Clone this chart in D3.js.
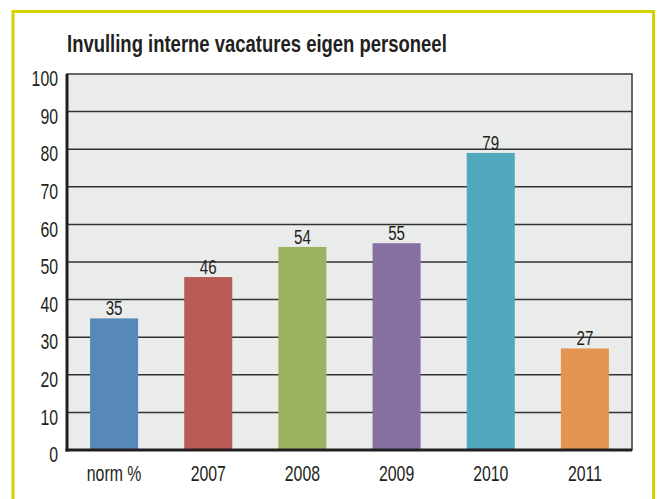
<!DOCTYPE html>
<html>
<head>
<meta charset="utf-8">
<script src="https://cdn.jsdelivr.net/npm/d3@7"></script>
<style>
  html, body { margin: 0; padding: 0; background: #fff; }
</style>
</head>
<body>
<div id="chart"></div>
<script>
const categories = ["norm %", "2007", "2008", "2009", "2010", "2011"];
const values = [35, 46, 54, 55, 79, 27];
const barColors = ["#5689ba", "#b95c55", "#9bb25f", "#8670a2", "#4fa8bc", "#e3954f"];
const yTicks = [0, 10, 20, 30, 40, 50, 60, 70, 80, 90, 100];
const title = "Invulling interne vacatures eigen personeel";

const width = 657, height = 499;
const margin = { top: 74, right: 25, bottom: 49, left: 67 };
const font = "'Liberation Sans', Arial, sans-serif";
const ink = "#231f20";
const squeeze = 0.72; // smalle letter nabootsen

const svg = d3.select("#chart").append("svg")
    .attr("width", width)
    .attr("height", height);

// gele kader
svg.append("rect")
    .attr("x", 13).attr("y", 11.5)
    .attr("width", 640.5).attr("height", 520)
    .attr("fill", "none")
    .attr("stroke", "#d4d200")
    .attr("stroke-width", 3);

svg.append("g")
    .attr("transform", `translate(67, 52) scale(0.77, 1)`)
    .append("text")
    .attr("fill", ink)
    .style("font-family", font)
    .style("font-weight", "bold")
    .style("font-size", "24px")
    .text(title);

const innerWidth = width - margin.left - margin.right;
const innerHeight = height - margin.top - margin.bottom;

const g = svg.append("g").attr("transform", `translate(${margin.left}, ${margin.top})`);

const x = d3.scaleBand()
    .domain(categories)
    .range([0, innerWidth])
    .paddingInner(0.49)
    .paddingOuter(0.245);

const y = d3.scaleLinear()
    .domain([0, 100])
    .range([innerHeight, 0]);

// achtergrond
g.append("rect")
    .attr("width", innerWidth)
    .attr("height", innerHeight)
    .attr("fill", "#eaebeb")
    .attr("stroke", "#3a3a3a")
    .attr("stroke-width", 1.5);

// rasterlijnen
g.selectAll(".grid")
    .data(yTicks.filter(d => d > 0 && d < 100))
    .enter().append("line")
    .attr("x1", 0).attr("x2", innerWidth)
    .attr("y1", d => y(d)).attr("y2", d => y(d))
    .attr("stroke", "#333")
    .attr("stroke-width", 1.5);

// staven
g.selectAll(".bar")
    .data(values).enter().append("rect")
    .attr("x", (d, i) => x(categories[i]))
    .attr("y", d => y(d))
    .attr("width", x.bandwidth())
    .attr("height", d => innerHeight - y(d))
    .attr("fill", (d, i) => barColors[i]);

// waarden
g.selectAll(".value")
    .data(values).enter().append("g")
    .attr("transform", (d, i) => `translate(${x(categories[i]) + x.bandwidth() / 2}, ${y(d) - 3}) scale(${squeeze}, 1)`)
    .append("text")
    .attr("text-anchor", "middle")
    .attr("fill", ink)
    .style("font-family", font)
    .style("font-size", "21px")
    .text(d => d);

// assen
const yAxis = g.append("g")
    .call(d3.axisLeft(y).tickValues(yTicks).tickSize(0).tickPadding(0));
yAxis.select(".domain").remove();
yAxis.selectAll(".tick")
    .attr("transform", d => `translate(-9, ${y(d)}) scale(${squeeze}, 1)`);
yAxis.selectAll("text")
    .attr("x", 0)
    .attr("dy", "0.55em")
    .attr("fill", ink)
    .style("font-family", font)
    .style("font-size", "22px");

const xAxis = g.append("g")
    .attr("transform", `translate(0, ${innerHeight})`)
    .call(d3.axisBottom(x).tickSize(0).tickPadding(15));
xAxis.select(".domain").remove();
xAxis.selectAll(".tick")
    .attr("transform", d => `translate(${x(d) + x.bandwidth() / 2}, 0) scale(${squeeze}, 1)`);
xAxis.selectAll("text")
    .attr("dy", "0.71em")
    .attr("fill", ink)
    .style("font-family", font)
    .style("font-size", "22px");

g.append("line")
    .attr("x1", 0).attr("x2", 0)
    .attr("y1", 0).attr("y2", innerHeight + 1.5)
    .attr("stroke", ink).attr("stroke-width", 3);
g.append("line")
    .attr("x1", -1.5).attr("x2", innerWidth)
    .attr("y1", innerHeight).attr("y2", innerHeight)
    .attr("stroke", ink).attr("stroke-width", 3);
</script>
</body>
</html>
